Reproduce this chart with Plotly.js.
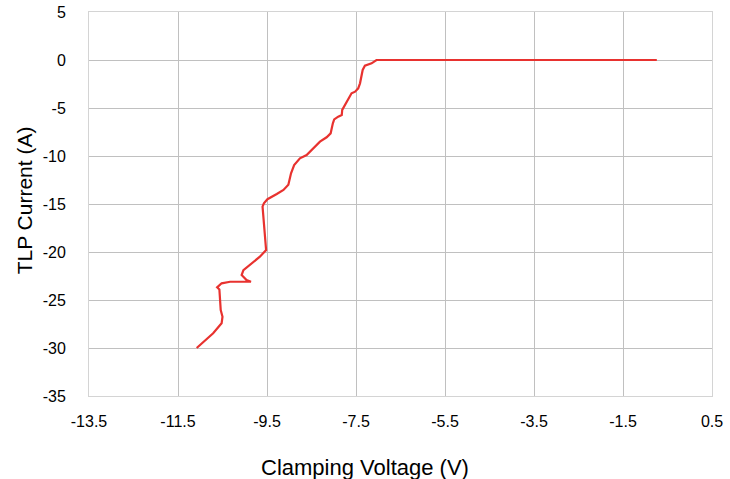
<!DOCTYPE html>
<html>
<head>
<meta charset="utf-8">
<script src="https://cdn.plot.ly/plotly-3.0.1.min.js"></script>
<style>html,body{margin:0;padding:0;background:#fff;}#chart{width:730px;height:479px;}</style>
</head>
<body>
<div id="chart"></div>
<script>
const clampVoltage = [-11.08,-10.89,-10.71,-10.52,-10.50,-10.54,-10.56,-10.57,-10.62,-10.52,-10.33,-10.0,-9.86,-9.96,-10.07,-10.03,-9.84,-9.66,-9.52,-9.54,-9.58,-9.60,-9.57,-9.49,-9.28,-9.13,-9.02,-8.96,-8.89,-8.76,-8.61,-8.53,-8.42,-8.31,-8.16,-8.07,-8.02,-7.99,-7.90,-7.82,-7.81,-7.75,-7.67,-7.60,-7.52,-7.45,-7.41,-7.35,-7.30,-7.15,-7.04,-4.0,-0.74];
const tlpCurrent = [-30.0,-29.17,-28.47,-27.43,-26.74,-26.04,-25.0,-23.9,-23.68,-23.26,-23.1,-23.06,-23.1,-22.92,-22.4,-21.88,-21.18,-20.49,-19.8,-18.4,-16.67,-15.28,-14.93,-14.5,-13.96,-13.54,-13.0,-11.8,-10.94,-10.24,-9.9,-9.55,-9.03,-8.5,-8.05,-7.64,-6.6,-6.18,-5.9,-5.73,-5.2,-4.69,-3.99,-3.47,-3.3,-2.95,-2.43,-1.04,-0.59,-0.35,0,0,0];
const xTicks = [-13.5,-11.5,-9.5,-7.5,-5.5,-3.5,-1.5,0.5];
const yTicks = [5,0,-5,-10,-15,-20,-25,-30,-35];
const xTitle = 'Clamping Voltage (V)';
const yTitle = 'TLP Current (A)';

const font = "Liberation Sans, Arial, sans-serif";
Plotly.newPlot('chart', [{
  x: clampVoltage, y: tlpCurrent, mode: 'lines', type: 'scatter',
  line: {color: '#e8322f', width: 2.2}, hoverinfo: 'none'
}], {
  width: 730, height: 479,
  margin: {l: 89, r: 18, t: 12, b: 83},
  paper_bgcolor: '#fff', plot_bgcolor: '#fff',
  showlegend: false,
  font: {family: font, size: 16, color: '#000'},
  xaxis: {
    range: [-13.5, 0.5], tickvals: xTicks, ticktext: xTicks.map(String),
    showgrid: true, gridcolor: '#c0c0c0', gridwidth: 1, zeroline: false,
    showline: true, linecolor: '#d4d4d4', linewidth: 1, mirror: true,
    ticks: '', ticklabelstandoff: 11, automargin: false,
    tickfont: {family: font, size: 16, color: '#000'}
  },
  yaxis: {
    range: [-35, 5], tickvals: yTicks, ticktext: yTicks.map(String),
    showgrid: true, gridcolor: '#c0c0c0', gridwidth: 1, zeroline: false,
    showline: true, linecolor: '#d4d4d4', linewidth: 1, mirror: true,
    ticks: '', ticklabelstandoff: 19, automargin: false,
    tickfont: {family: font, size: 16, color: '#000'}
  },
  annotations: [
    {text: xTitle, xref: 'paper', yref: 'paper', x: 0.443, y: -0.185, xanchor: 'center', yanchor: 'middle',
     showarrow: false, font: {family: font, size: 22, color: '#000'}},
    {text: yTitle, xref: 'paper', yref: 'paper', x: -0.104, y: 0.51, xanchor: 'center', yanchor: 'middle',
     textangle: -90, showarrow: false, font: {family: font, size: 21, color: '#000'}}
  ]
}, {staticPlot: true, displayModeBar: false});
</script>
</body>
</html>
